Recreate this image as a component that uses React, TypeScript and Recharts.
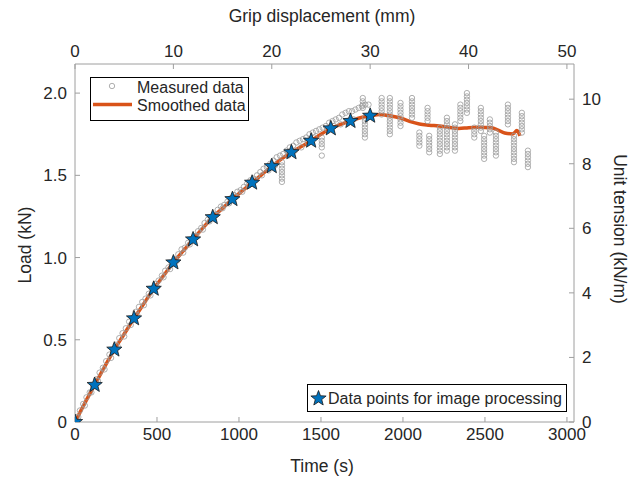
import React from 'react'
import { ComposedChart, Scatter, Line, XAxis, YAxis } from 'recharts'

// time (s) -> load (kN)
const smoothTime = [0, 60, 120, 180, 240, 300, 360, 420, 480, 540, 600, 660, 720, 780, 840, 900, 960, 1020, 1080, 1140, 1200, 1260, 1320, 1380, 1440, 1500, 1560, 1620, 1680, 1740, 1800, 1860, 1920, 1980, 2040, 2100, 2160, 2220, 2280, 2340, 2400, 2460, 2540, 2580, 2620, 2670, 2695, 2713]
const smoothLoad = [0, 0.115, 0.225, 0.335, 0.44, 0.535, 0.63, 0.72, 0.81, 0.89, 0.97, 1.04, 1.11, 1.18, 1.245, 1.3, 1.355, 1.405, 1.455, 1.505, 1.555, 1.6, 1.64, 1.675, 1.71, 1.75, 1.785, 1.81, 1.83, 1.85, 1.862, 1.87, 1.862, 1.85, 1.828, 1.812, 1.805, 1.8, 1.792, 1.785, 1.79, 1.792, 1.79, 1.775, 1.757, 1.752, 1.772, 1.74]

const starTime = [0, 120, 240, 360, 480, 600, 720, 840, 960, 1080, 1200, 1320, 1440, 1560, 1680, 1800]
const starLoad = [0, 0.225, 0.44, 0.63, 0.81, 0.97, 1.11, 1.245, 1.355, 1.455, 1.555, 1.64, 1.71, 1.785, 1.83, 1.862]

// measured points along the rising part (upper edge of the band)
const rampTime = [10, 30, 50, 70, 90, 110, 130, 150, 170, 190, 210, 230, 250, 270, 290, 310, 330, 350, 370, 390, 410, 430, 450, 470, 490, 510, 530, 550, 570, 590, 610, 630, 650, 670, 690, 710, 730, 750, 770, 790, 810, 830, 850, 870, 890, 910, 930, 950, 970, 990, 1010, 1030, 1050, 1070, 1090, 1110, 1130, 1150, 1170, 1190, 1210, 1230, 1250, 1270, 1290, 1310, 1330, 1350, 1370, 1390, 1410, 1430, 1450, 1470, 1490, 1510, 1530, 1550, 1570, 1590, 1610, 1630, 1650, 1670, 1690, 1710, 1730, 1750, 1770, 1790]
const rampLoad = [0.03, 0.07, 0.11, 0.15, 0.18, 0.22, 0.26, 0.3, 0.33, 0.37, 0.41, 0.44, 0.47, 0.51, 0.54, 0.57, 0.61, 0.63, 0.67, 0.7, 0.73, 0.75, 0.78, 0.81, 0.84, 0.86, 0.89, 0.92, 0.94, 0.96, 0.99, 1.02, 1.05, 1.06, 1.09, 1.11, 1.13, 1.16, 1.18, 1.21, 1.23, 1.24, 1.26, 1.29, 1.31, 1.32, 1.34, 1.36, 1.38, 1.4, 1.41, 1.43, 1.45, 1.47, 1.48, 1.5, 1.52, 1.54, 1.55, 1.57, 1.59, 1.61, 1.62, 1.63, 1.65, 1.67, 1.68, 1.7, 1.71, 1.72, 1.73, 1.75, 1.76, 1.77, 1.78, 1.79, 1.8, 1.82, 1.83, 1.84, 1.85, 1.87, 1.88, 1.89, 1.89, 1.9, 1.91, 1.92, 1.93, 1.93]
// lower edge of the band
const rampTime2 = [20, 60, 100, 140, 180, 220, 260, 300, 340, 380, 420, 460, 500, 540, 580, 620, 660, 700, 740, 780, 820, 860, 900, 940, 980, 1020, 1060, 1100, 1140, 1180, 1220, 1300, 1340, 1380, 1420, 1460, 1540, 1580, 1620, 1660, 1700]
const rampLoad2 = [0.03, 0.1, 0.18, 0.25, 0.32, 0.39, 0.46, 0.52, 0.59, 0.65, 0.71, 0.77, 0.82, 0.88, 0.93, 0.98, 1.03, 1.08, 1.13, 1.17, 1.22, 1.26, 1.3, 1.33, 1.37, 1.4, 1.44, 1.47, 1.5, 1.53, 1.56, 1.62, 1.65, 1.67, 1.7, 1.73, 1.78, 1.8, 1.81, 1.83, 1.84]

// vertical runs of measured points (slip events)
const colTime = [1262, 1505, 1755, 1768, 1870, 1920, 1985, 2055, 2100, 2150, 2160, 2225, 2268, 2317, 2350, 2390, 2435, 2475, 2495, 2530, 2567, 2640, 2677, 2725, 2762]
const colLoads = [
  [1.58, 1.56, 1.54, 1.52, 1.5, 1.48, 1.46],
  [1.73, 1.71, 1.69, 1.67, 1.62],
  [1.97, 1.95, 1.93, 1.91],
  [1.85, 1.83, 1.81, 1.79, 1.77, 1.75, 1.73],
  [1.97, 1.95, 1.93, 1.91, 1.89, 1.87],
  [1.97, 1.95, 1.93, 1.91, 1.89, 1.87, 1.85, 1.83, 1.81, 1.79, 1.77, 1.75],
  [1.94, 1.92, 1.9, 1.88, 1.86, 1.84, 1.82, 1.8],
  [1.97, 1.95, 1.93, 1.91, 1.89, 1.87, 1.85],
  [1.76, 1.74, 1.72, 1.7, 1.68],
  [1.91, 1.89, 1.87, 1.85, 1.83],
  [1.74, 1.72, 1.7, 1.68, 1.66, 1.64],
  [1.79, 1.77, 1.75, 1.73, 1.71, 1.69, 1.67, 1.65, 1.63],
  [1.85, 1.83, 1.81, 1.79, 1.77, 1.75, 1.73, 1.71, 1.69, 1.67, 1.65],
  [1.81, 1.79, 1.77, 1.75, 1.73, 1.71, 1.69, 1.67, 1.65],
  [1.93, 1.91, 1.89, 1.87, 1.85, 1.83],
  [2.0, 1.98, 1.96, 1.94, 1.92, 1.9, 1.88],
  [1.79, 1.77, 1.75, 1.73],
  [1.91, 1.89, 1.87, 1.85, 1.83, 1.81, 1.79, 1.77],
  [1.74, 1.72, 1.7, 1.68, 1.66, 1.64, 1.62, 1.6],
  [1.84, 1.82, 1.8, 1.78, 1.76],
  [1.76, 1.74, 1.72, 1.7, 1.68, 1.66, 1.64, 1.62],
  [1.93, 1.91, 1.89, 1.87, 1.85, 1.83, 1.81],
  [1.74, 1.72, 1.7, 1.68, 1.66, 1.64, 1.62, 1.6, 1.58],
  [1.88, 1.86, 1.84, 1.82, 1.8, 1.78, 1.76],
  [1.65, 1.63, 1.61, 1.59, 1.57, 1.55],
]

const timeTicks = [0, 500, 1000, 1500, 2000, 2500, 3000]
const gripTicks = [0, 10, 20, 30, 40, 50]
const loadTicks = [0, 0.5, 1, 1.5, 2]
const tensionTicks = [0, 2, 4, 6, 8, 10]

const smoothData = smoothTime.map((t, i) => ({ t, L: smoothLoad[i] }))
const starData = starTime.map((t, i) => ({ t, L: starLoad[i] }))
const measuredData = [
  ...rampTime.map((t, i) => ({ t, L: rampLoad[i] })),
  ...rampTime2.map((t, i) => ({ t, L: rampLoad2[i] })),
  ...colTime.flatMap((t, i) => colLoads[i].map((L) => ({ t, L }))),
]
// anchors the top (grip displacement) axis
const gripData = gripTicks.map((g) => ({ g, L: 0 }))

const ORANGE = '#d95319'
const BLUE = '#0072bd'
const GREY = '#9a9a9a'
const AXIS = '#9e9e9e'
const TEXT = '#262626'

function starPath(cx: number, cy: number, ro: number, ri: number) {
  let d = ''
  for (let k = 0; k < 10; k++) {
    const r = k % 2 === 0 ? ro : ri
    const a = -Math.PI / 2 + (k * Math.PI) / 5
    d += (k === 0 ? 'M' : 'L') + (cx + r * Math.cos(a)).toFixed(2) + ',' + (cy + r * Math.sin(a)).toFixed(2)
  }
  return d + 'Z'
}

const Ring = (p: any) => <circle cx={p.cx} cy={p.cy} r={2.7} fill="none" stroke={GREY} strokeWidth={0.8} />
const Star = (p: any) => <path d={starPath(p.cx, p.cy, 8, 3.4)} fill={BLUE} stroke="#1a1a1a" strokeWidth={0.8} />

const tick = { fontSize: 17, fill: TEXT }

export default function App() {
  return (
    <div style={{ position: 'absolute', left: 0, top: 0, width: 640, height: 479, background: '#fff', fontFamily: '"Liberation Sans", Arial, sans-serif' }}>
      <ComposedChart width={640} height={479} margin={{ top: 0, right: 0, bottom: 0, left: 0 }}>
        <XAxis
          xAxisId="bottom"
          dataKey="t"
          type="number"
          domain={[0, 3043]}
          allowDataOverflow
          ticks={timeTicks}
          height={57}
          tick={tick}
          tickSize={-5}
          tickMargin={11}
          stroke={AXIS}
          interval={0}
        />
        <XAxis
          xAxisId="top"
          dataKey="g"
          orientation="top"
          type="number"
          domain={[0, 50.72]}
          allowDataOverflow
          ticks={gripTicks}
          height={64}
          tick={tick}
          tickSize={-5}
          tickMargin={12}
          stroke={AXIS}
          interval={0}
        />
        <YAxis
          yAxisId="left"
          dataKey="L"
          type="number"
          domain={[0, 2.177]}
          allowDataOverflow
          ticks={loadTicks}
          width={75}
          tick={tick}
          tickSize={-5}
          tickMargin={13}
          stroke={AXIS}
          interval={0}
          tickFormatter={(v) => (v === 0 ? '0' : Number(v).toFixed(1))}
        />
        <YAxis
          yAxisId="right"
          orientation="right"
          type="number"
          domain={[0, 11.09]}
          allowDataOverflow
          ticks={tensionTicks}
          width={66}
          tick={tick}
          tickSize={-5}
          tickMargin={13}
          stroke={AXIS}
          interval={0}
        />
        <Line xAxisId="top" yAxisId="left" data={gripData} dataKey="L" stroke="none" dot={false} isAnimationActive={false} />
        <Scatter xAxisId="bottom" yAxisId="left" data={measuredData} dataKey="L" shape={Ring} isAnimationActive={false} />
        <Line
          xAxisId="bottom"
          yAxisId="left"
          data={smoothData}
          dataKey="L"
          type="monotone"
          stroke={ORANGE}
          strokeWidth={3.5}
          dot={false}
          isAnimationActive={false}
        />
        <Scatter xAxisId="bottom" yAxisId="left" data={starData} dataKey="L" shape={Star} isAnimationActive={false} />
      </ComposedChart>

      {/* titles + legends */}
      <svg width={640} height={479} style={{ position: 'absolute', left: 0, top: 0, pointerEvents: 'none' }}>
        <g fill={TEXT} fontSize={17.5}>
          <text x={322} y={472} textAnchor="middle">Time (s)</text>
          <text x={322} y={22} textAnchor="middle">Grip displacement (mm)</text>
          <text transform="translate(31,245) rotate(-90)" textAnchor="middle">Load (kN)</text>
          <text transform="translate(614,229) rotate(90)" textAnchor="middle">Unit tension (kN/m)</text>
        </g>

        <rect x={90.5} y={77.5} width={158} height={43} fill="#fff" stroke="#000" strokeWidth={1} />
        <circle cx={112} cy={86} r={2.7} fill="none" stroke={GREY} strokeWidth={0.8} />
        <line x1={93} y1={104.5} x2={132} y2={104.5} stroke={ORANGE} strokeWidth={3.5} />
        <g fill={TEXT} fontSize={16}>
          <text x={137} y={92.5}>Measured data</text>
          <text x={137} y={111}>Smoothed data</text>
        </g>

        <rect x={307.5} y={384.5} width={259} height={27} fill="#fff" stroke="#000" strokeWidth={1} />
        <path d={starPath(318.5, 398.5, 8, 3.4)} fill={BLUE} stroke="#1a1a1a" strokeWidth={0.8} />
        <text x={328} y={403.5} fill={TEXT} fontSize={16}>Data points for image processing</text>
      </svg>
    </div>
  )
}
